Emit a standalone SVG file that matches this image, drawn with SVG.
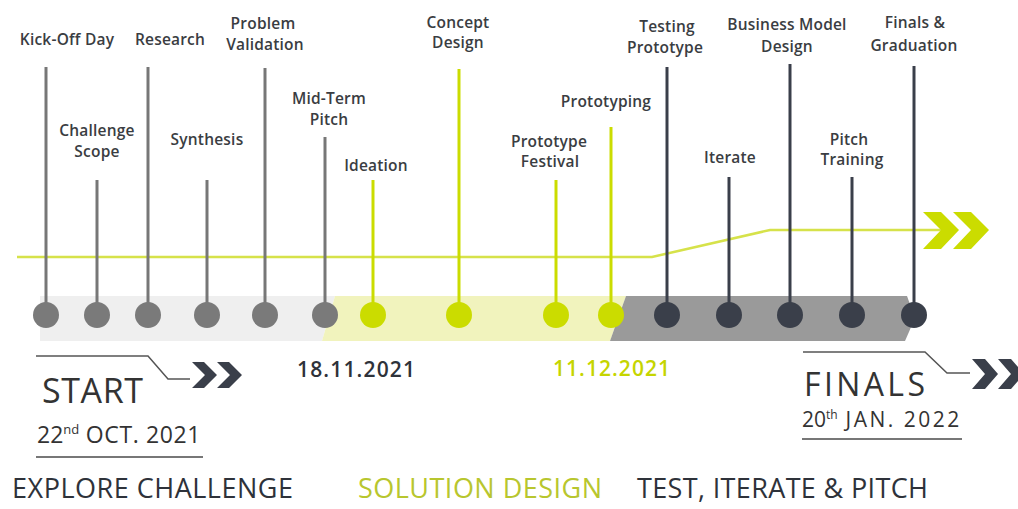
<svg xmlns="http://www.w3.org/2000/svg" width="1018" height="509" viewBox="0 0 1018 509">
<style>
.lbl{font-family:"Open Sans","Liberation Sans",sans-serif;font-size:15.5px;font-weight:600;fill:#3a3d42;text-anchor:middle;letter-spacing:0.2px}
.gl{stroke:#777;stroke-width:3}
.ll{stroke:#cbdc00;stroke-width:3}
.dl{stroke:#3a3f4a;stroke-width:3}
.gd{fill:#7a7a7a}
.ld{fill:#cbdc00}
.dd{fill:#3a3f4a}
.big{font-family:"Open Sans","Liberation Sans",sans-serif;fill:#333}
</style>
<rect width="1018" height="509" fill="#fff"/>
<g id="bands">
<polygon points="40,296 335,296 322,341 40,341" fill="#efefef"/>
<polygon points="335,296 626,296 610,341 322,341" fill="#f1f3bd"/>
<polygon points="626,296 907,296 915,318 905,341 610,341" fill="#9a9a9a"/>
</g>
<g id="connectors">
<polyline points="17,257 652,257 770,230 945,230" fill="none" stroke="#d6e24a" stroke-width="2.5"/>
<polygon points="923,212 941,212 959,230 941,249 923,249 941,230" fill="#cbdc00"/>
<polygon points="953,212 971,212 989,230 971,249 953,249 971,230" fill="#cbdc00"/>
</g>
<g id="n1"><line class="gl" x1="46" y1="67" x2="46" y2="315"/><circle class="gd" cx="46" cy="315" r="13"/><text class="lbl" x="67" y="45">Kick-Off Day</text></g>
<g id="n2"><line class="gl" x1="97" y1="180" x2="97" y2="315"/><circle class="gd" cx="97" cy="315" r="13"/><text class="lbl" x="97" y="136">Challenge</text><text class="lbl" x="97" y="157">Scope</text></g>
<g id="n3"><line class="gl" x1="148" y1="67" x2="148" y2="315"/><circle class="gd" cx="148" cy="315" r="13"/><text class="lbl" x="170" y="45">Research</text></g>
<g id="n4"><line class="gl" x1="207" y1="180" x2="207" y2="315"/><circle class="gd" cx="207" cy="315" r="13"/><text class="lbl" x="207" y="145">Synthesis</text></g>
<g id="n5"><line class="gl" x1="265" y1="68" x2="265" y2="315"/><circle class="gd" cx="265" cy="315" r="13"/><text class="lbl" x="263" y="29">Problem</text><text class="lbl" x="265" y="50">Validation</text></g>
<g id="n6"><line class="gl" x1="325" y1="137" x2="325" y2="315"/><circle class="gd" cx="325" cy="315" r="13"/><text class="lbl" x="329" y="104">Mid-Term</text><text class="lbl" x="329" y="125">Pitch</text></g>
<g id="n7"><line class="ll" x1="373" y1="180" x2="373" y2="315"/><circle class="ld" cx="373" cy="315" r="13"/><text class="lbl" x="376" y="171">Ideation</text></g>
<g id="n8"><line class="ll" x1="459" y1="69" x2="459" y2="315"/><circle class="ld" cx="459" cy="315" r="13"/><text class="lbl" x="458" y="28">Concept</text><text class="lbl" x="458" y="48">Design</text></g>
<g id="n9"><line class="ll" x1="556" y1="180" x2="556" y2="315"/><circle class="ld" cx="556" cy="315" r="13"/><text class="lbl" x="549" y="147">Prototype</text><text class="lbl" x="550" y="167">Festival</text></g>
<g id="n10"><line class="ll" x1="611" y1="127" x2="611" y2="315"/><circle class="ld" cx="611" cy="315" r="13"/><text class="lbl" x="606" y="107">Prototyping</text></g>
<g id="n11"><line class="dl" x1="667" y1="67" x2="667" y2="315"/><circle class="dd" cx="667" cy="315" r="13"/><text class="lbl" x="667" y="32">Testing</text><text class="lbl" x="665" y="53">Prototype</text></g>
<g id="n12"><line class="dl" x1="729" y1="177" x2="729" y2="315"/><circle class="dd" cx="729" cy="315" r="13"/><text class="lbl" x="730" y="163">Iterate</text></g>
<g id="n13"><line class="dl" x1="790" y1="64" x2="790" y2="315"/><circle class="dd" cx="790" cy="315" r="13"/><text class="lbl" x="787" y="30">Business Model</text><text class="lbl" x="787" y="52">Design</text></g>
<g id="n14"><line class="dl" x1="852" y1="177" x2="852" y2="315"/><circle class="dd" cx="852" cy="315" r="13"/><text class="lbl" x="849" y="145">Pitch</text><text class="lbl" x="852" y="165">Training</text></g>
<g id="n15"><line class="dl" x1="914" y1="66" x2="914" y2="315"/><circle class="dd" cx="914" cy="315" r="13"/><text class="lbl" x="915" y="28">Finals &amp;</text><text class="lbl" x="914" y="51">Graduation</text></g>
<g id="start">
<polyline points="36,356 148,356 168,379 190,379" fill="none" stroke="#555" stroke-width="1.5"/>
<polygon points="192,362 204,362 217,375 204,388 192,388 205,375" fill="#3a3f4a"/>
<polygon points="217,362 229,362 242,375 229,388 217,388 230,375" fill="#3a3f4a"/>
<text class="big" x="42" y="403" font-size="34" textLength="101" lengthAdjust="spacing">START</text>
<text class="big" x="37" y="443" font-size="23">22<tspan font-size="13" dy="-9">nd</tspan><tspan dy="9" letter-spacing="0.6"> OCT. 2021</tspan></text>
<line x1="36" y1="457" x2="203" y2="457" stroke="#777" stroke-width="2"/>
</g>
<g id="finals">
<polyline points="803,352 925,352 947,373 970,373" fill="none" stroke="#555" stroke-width="1.5"/>
<polygon points="972,359 985,359 998,374 985,389 972,389 985,374" fill="#3a3f4a"/>
<polygon points="998,359 1011,359 1024,374 1011,389 998,389 1011,374" fill="#3a3f4a"/>
<text class="big" x="804" y="396" font-size="32" textLength="121" lengthAdjust="spacing">FINALS</text>
<text class="big" x="802" y="427" font-size="21">20<tspan font-size="12" dy="-8">th</tspan><tspan dy="8" letter-spacing="2.5"> JAN. 2022</tspan></text>
<line x1="802" y1="439" x2="962" y2="439" stroke="#777" stroke-width="2"/>
</g>
<g id="dates">
<text class="big" x="297" y="377" font-size="21" font-weight="600" textLength="118" lengthAdjust="spacing" style="fill:#2e323a">18.11.2021</text>
<text class="big" x="553" y="376" font-size="21" font-weight="600" textLength="117" lengthAdjust="spacing" style="fill:#c5d500">11.12.2021</text>
</g>
<g id="phases">
<text class="big" x="12" y="498" font-size="27" textLength="281" lengthAdjust="spacing" style="fill:#2e323a">EXPLORE CHALLENGE</text>
<text class="big" x="358" y="498" font-size="27" textLength="244" lengthAdjust="spacing" style="fill:#b8c62e">SOLUTION DESIGN</text>
<text class="big" x="637" y="498" font-size="27" textLength="291" lengthAdjust="spacing" style="fill:#2e323a">TEST, ITERATE &amp; PITCH</text>
</g>
</svg>
